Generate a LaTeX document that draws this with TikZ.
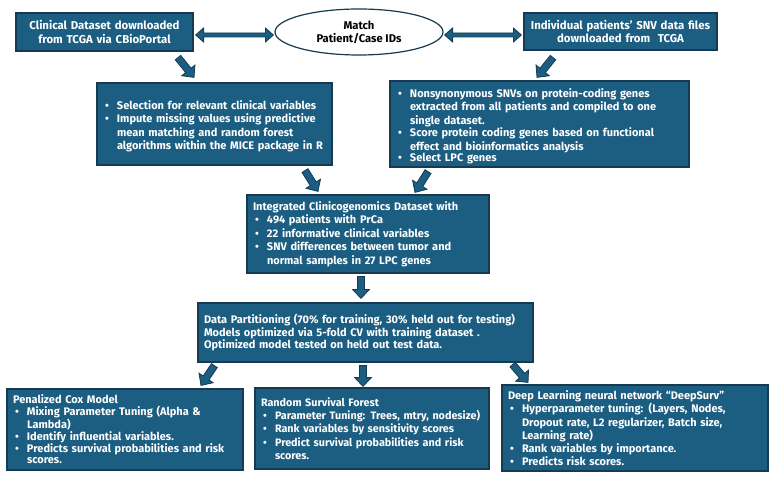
\documentclass[tikz,border=0pt]{standalone}
\usepackage{fontspec}
\setmainfont{Fira Sans}[BoldFont={Fira Sans Bold}]
\usetikzlibrary{shapes.geometric,calc}
\definecolor{bfill}{HTML}{1B5E82}
\definecolor{bdark}{HTML}{163A52}
\newcommand\bl[1]{\par\noindent\makebox[14pt][l]{\hspace{2pt}•}\vtop{\parindent=0pt\raggedright #1}}
\newcommand\hdr[1]{\noindent #1}
% single block arrow from #1 to #2
\newcommand\barrow[2]{%
  \coordinate (bam) at ($(#2)!9pt!(#1)$);
  \path[arr] ($(#1)!3.5pt!90:(#2)$) -- ($(bam)!3.5pt!90:(#2)$) -- ($(bam)!8.5pt!90:(#2)$) -- (#2)
    -- ($(bam)!8.5pt!-90:(#2)$) -- ($(bam)!3.5pt!-90:(#2)$) -- ($(#1)!3.5pt!-90:(#2)$) -- cycle;}
% double block arrow between #1 and #2
\newcommand\dbarrow[2]{%
  \coordinate (dma) at ($(#1)!8pt!(#2)$);
  \coordinate (dmb) at ($(#2)!8pt!(#1)$);
  \path[arr] (#1) -- ($(dma)!7pt!90:(#2)$) -- ($(dma)!2pt!90:(#2)$) -- ($(dmb)!2pt!90:(#2)$)
    -- ($(dmb)!7pt!90:(#2)$) -- (#2) -- ($(dmb)!7pt!-90:(#2)$) -- ($(dmb)!2pt!-90:(#2)$)
    -- ($(dma)!2pt!-90:(#2)$) -- ($(dma)!7pt!-90:(#2)$) -- cycle;}
\begin{document}
\begin{tikzpicture}[x=1pt,y=-1pt,
  box/.style={draw=bdark, fill=bfill, line width=1.2pt, text=white,
    font=\bfseries\fontsize{11}{13.5}\selectfont, inner xsep=6pt, inner ysep=0pt, align=left},
  cbox/.style={box, align=center, font=\bfseries\fontsize{11.4}{13.5}\selectfont},
  oval/.style={ellipse, draw=bdark, fill=white, line width=1.2pt, text=black,
    font=\bfseries\fontsize{11.2}{13}\selectfont, align=center, inner sep=0pt},
  arr/.style={draw=bdark, fill=bfill, line width=0.8pt, line join=miter}]
\useasboundingbox[fill=white] (0,0) rectangle (775,478);

\node[cbox, text width=165pt, minimum height=38pt] (b1) at (104.5,32)
  {Clinical Dataset downloaded\\from TCGA via CBioPortal};
\node[oval, minimum width=168pt, minimum height=46pt] (m) at (359,32)
  {Match\\Patient/Case IDs};
\node[cbox, text width=181pt, minimum height=37pt] (b2) at (620.5,31.5)
  {Individual patients’ SNV data files\\downloaded from~ TCGA};

\node[box, text width=223pt, minimum height=82pt] (b3) at (214.5,124)
  {\bl{Selection for relevant clinical variables}
   \bl{Impute missing values using predictive\\ mean matching and random forest\\ algorithms within the MICE package in R}};
\node[box, text width=287pt, minimum height=86pt] (b4) at (539.5,124)
  {\bl{Nonsynonymous SNVs on protein-coding genes\\ extracted from all patients and compiled to one\\ single dataset.}
   \bl{Score protein coding genes based on functional\\ effect and bioinformatics analysis}
   \bl{Select LPC genes}};
\node[box, text width=230pt, minimum height=78pt] (b5) at (368,234)
  {\hdr{Integrated Clinicogenomics Dataset with}
   \bl{494 patients with PrCa}
   \bl{22 informative clinical variables}
   \bl{SNV differences between tumor and\\ normal samples in 27 LPC genes}};
\node[box, text width=323pt, minimum height=59pt, font=\bfseries\fontsize{11}{12.5}\selectfont] (b6) at (365.5,332.5)
  {\hdr{Data Partitioning (70\% for training, 30\% held out for testing)}\par
   \hdr{Models optimized via 5-fold CV with training dataset .}\par
   \hdr{Optimized model tested on held out test data.}};

\node[box, text width=224pt, minimum height=81pt, font=\bfseries\fontsize{11}{11.8}\selectfont] (b7) at (125,429.5)
  {\hdr{Penalized Cox Model}
   \bl{Mixing Parameter Tuning (Alpha \&\\ Lambda)}
   \bl{Identify influential variables.}
   \bl{Predicts survival probabilities and risk\\ scores.}};
\node[box, text width=222pt, minimum height=81pt, font=\bfseries\fontsize{10.8}{13.3}\selectfont] (b8) at (372,428.5)
  {\hdr{Random Survival Forest}
   \bl{Parameter Tuning: Trees, mtry, nodesize)}
   \bl{Rank variables by sensitivity scores}
   \bl{Predict survival probabilities and risk\\ scores.}};
\node[box, text width=254pt, minimum height=86pt] (b9) at (635,428)
  {\hdr{Deep Learning neural network “DeepSurv”}
   \bl{Hyperparameter tuning: (Layers, Nodes,\\ Dropout rate, L2 regularizer, Batch size,\\ Learning rate)}
   \bl{Rank variables by importance.}
   \bl{Predicts risk scores.}};

% double arrows
\dbarrow{$(b1.east)+(2,3)$}{$(m.west)+(-1,3)$}
\dbarrow{$(m.east)+(1,3)$}{$(b2.west)+(-2,3.5)$}
% single arrows
\barrow{$(b1.south)+(73.5,6)$}{$(b3.north)+(-20.5,-5)$}
\barrow{$(b2.south)+(-67.5,7)$}{$(b4.north)+(-2.5,-3)$}
\barrow{$(b3.south)+(90.5,5)$}{$(b5.north)+(-50,-3)$}
\barrow{$(b4.south)+(-111.5,4)$}{$(b5.north)+(47,-2)$}
\barrow{$(b5.south)+(-7,3)$}{$(b6.north)+(-4.5,-4)$}
\barrow{$(b6.south west)+(17,3)$}{$(b7.north)+(76,-3)$}
\barrow{$(b6.south)+(-2.5,3)$}{$(b8.north)+(-9,-1)$}
\barrow{$(b6.south east)+(-21,2)$}{$(b9.north)+(-107,-2)$}
\end{tikzpicture}
\end{document}
